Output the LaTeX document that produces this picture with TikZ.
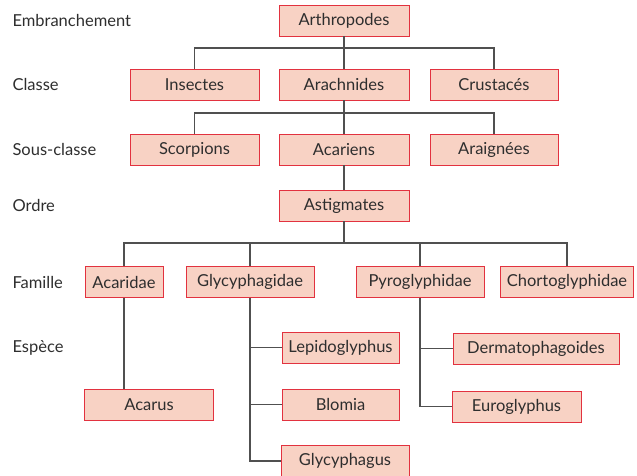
\documentclass[tikz,border=0pt]{standalone}
\usepackage{fontspec}
\setmainfont{Lato}
\definecolor{boxred}{HTML}{E2323F}
\definecolor{boxfill}{HTML}{F8D2C4}
\definecolor{linegray}{HTML}{505050}
\definecolor{txtgray}{HTML}{2E2E2E}
\begin{document}
\begin{tikzpicture}[
    x=1pt,y=-1pt,
    every node/.style={font=\fontsize{16.5}{19}\selectfont, text=txtgray},
    taxon/.style={draw=boxred, fill=boxfill, line width=0.9pt, minimum height=31pt, inner sep=0pt},
    rank/.style={anchor=west},
    link/.style={draw=linegray, line width=1.1pt}
]
    \useasboundingbox (0,0) rectangle (637,476);

    \node[rank] (rEmb) at (9,20.5) {Embranchement};
    \node[rank] (rCla) at (9,84.5) {Classe};
    \node[rank] (rSou) at (9,149.5) {Sous-classe};
    \node[rank] (rOrd) at (9,205.5) {Ordre};
    \node[rank] (rFam) at (9,282) {Famille};
    \node[rank] (rEsp) at (9,347.5) {Espèce};

    \node[taxon, minimum width=130pt] (arth) at (344,20.5) {Arthropodes};

    \node[taxon, minimum width=129pt] (ins) at (194.5,84.5) {Insectes};
    \node[taxon, minimum width=130pt] (arach) at (344,84.5) {Arachnides};
    \node[taxon, minimum width=128pt] (crus) at (494,84.5) {Crustacés};

    \node[taxon, minimum width=129pt] (scorp) at (194.5,149.5) {Scorpions};
    \node[taxon, minimum width=130pt] (acar) at (344,149.5) {Acariens};
    \node[taxon, minimum width=128pt] (araig) at (494,149.5) {Araignées};

    \node[taxon, minimum width=130pt] (astig) at (344,205.5) {Astigmates};

    \node[taxon, minimum width=78pt] (acaridae) at (124,282) {Acaridae};
    \node[taxon, minimum width=128pt] (glycy) at (250,282) {Glycyphagidae};
    \node[taxon, minimum width=128pt] (pyro) at (420,282) {Pyroglyphidae};
    \node[taxon, minimum width=133pt] (chorto) at (567,282) {Chortoglyphidae};

    \node[taxon, minimum width=129pt] (acarus) at (149,404.5) {Acarus};
    \node[taxon, minimum width=117pt] (lepi) at (340.5,347.5) {Lepidoglyphus};
    \node[taxon, minimum width=117pt] (blomia) at (340.5,404.5) {Blomia};
    \node[taxon, minimum width=128pt] (glycus) at (345,461) {Glycyphagus};
    \node[taxon, minimum width=166pt] (derm) at (536,348.5) {Dermatophagoides};
    \node[taxon, minimum width=129pt] (euro) at (516.5,406.5) {Euroglyphus};

    % bus levels
    \coordinate (bus1) at (344,48);
    \coordinate (bus2) at (344,113);
    \coordinate (bus3) at (344,243);

    \draw[link] (arth) -- (arach);
    \draw[link] (ins.north) |- (bus1) -| (crus.north);
    \draw[link] (arach) -- (acar);
    \draw[link] (scorp.north) |- (bus2) -| (araig.north);
    \draw[link] (acar) -- (astig);
    \draw[link] (astig) -- (bus3);
    \draw[link] (acaridae.north) |- (bus3) -| (chorto.north);
    \draw[link] (glycy.north) -- (glycy.north |- bus3);
    \draw[link] (pyro.north) -- (pyro.north |- bus3);

    \draw[link] (acaridae.south) -- (acaridae.south |- acarus.north);
    \draw[link] (glycy.south) |- (glycus.west);
    \draw[link] (lepi.west) -- (glycy.south |- lepi.west);
    \draw[link] (blomia.west) -- (glycy.south |- blomia.west);
    \draw[link] (pyro.south) |- (euro.west);
    \draw[link] (derm.west) -- (pyro.south |- derm.west);
\end{tikzpicture}
\end{document}
